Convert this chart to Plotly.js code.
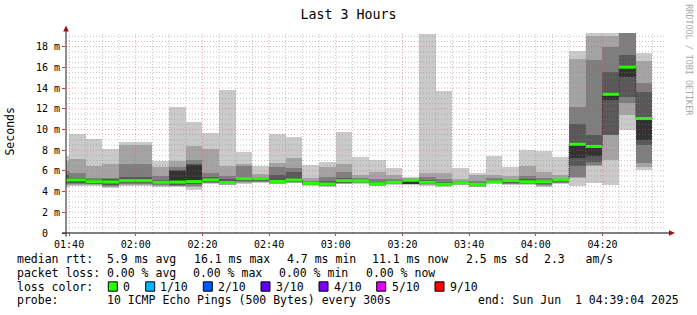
<!DOCTYPE html>
<html><head><meta charset="utf-8">
<script src="https://cdn.plot.ly/plotly-3.0.1.min.js"></script>
<style>html,body{margin:0;padding:0;background:#fff;}#chart{width:697px;height:315px;}</style>
</head><body><div id="chart"></div>
<script>
// ---- data (5-minute bins, start time of each bin) ----
const binStart = ["2025-06-01 01:35:00","2025-06-01 01:40:00","2025-06-01 01:45:00","2025-06-01 01:50:00","2025-06-01 01:55:00",
 "2025-06-01 02:00:00","2025-06-01 02:05:00","2025-06-01 02:10:00","2025-06-01 02:15:00","2025-06-01 02:20:00","2025-06-01 02:25:00",
 "2025-06-01 02:30:00","2025-06-01 02:35:00","2025-06-01 02:40:00","2025-06-01 02:45:00","2025-06-01 02:50:00","2025-06-01 02:55:00",
 "2025-06-01 03:00:00","2025-06-01 03:05:00","2025-06-01 03:10:00","2025-06-01 03:15:00","2025-06-01 03:20:00","2025-06-01 03:25:00",
 "2025-06-01 03:30:00","2025-06-01 03:35:00","2025-06-01 03:40:00","2025-06-01 03:45:00","2025-06-01 03:50:00","2025-06-01 03:55:00",
 "2025-06-01 04:00:00","2025-06-01 04:05:00","2025-06-01 04:10:00","2025-06-01 04:15:00","2025-06-01 04:20:00","2025-06-01 04:25:00",
 "2025-06-01 04:30:00"];
// sorted ping rtt values (ms), ping1 = fastest ... ping10 = slowest
const ping10 = [7.40,9.55,9.07,8.10,8.78,8.78,7.00,12.14,10.70,9.65,13.78,7.82,6.44,9.61,9.23,6.57,6.86,9.74,7.34,7.05,6.29,5.45,19.23,13.68,6.31,5.80,7.47,6.41,8.00,7.94,7.34,17.62,19.80,20.50,22.00,17.37];
const ping9  = [7.00,7.15,6.44,6.66,8.50,8.50,6.40,6.93,8.43,8.14,6.44,6.66,5.70,6.79,7.27,5.30,6.34,6.67,5.58,5.93,5.65,5.30,5.83,5.83,5.20,5.64,5.64,5.54,6.44,5.90,5.58,16.85,19.05,19.00,21.00,16.60];
const ping8  = [6.00,5.80,5.32,5.35,6.66,6.66,5.54,6.40,7.08,5.80,5.48,6.45,5.40,6.40,6.30,5.00,5.45,5.85,5.30,5.20,5.20,5.20,5.40,5.20,5.00,5.00,5.30,5.20,5.55,5.30,5.25,12.15,16.70,17.98,19.50,14.48];
const ping7  = [5.60,5.35,5.15,5.25,5.40,5.40,5.10,6.10,6.70,5.40,5.20,5.38,5.30,5.60,5.90,4.90,5.00,5.30,5.15,4.95,5.00,5.15,5.10,4.95,4.90,4.80,5.05,5.10,5.20,5.05,5.18,10.50,9.47,15.58,17.24,13.60];
const ping6  = [5.20,5.15,5.00,5.00,5.15,5.15,4.95,6.00,6.60,5.20,4.95,5.30,5.28,5.05,5.20,4.85,4.80,5.10,5.08,4.80,4.92,5.12,4.95,4.80,4.88,4.72,4.98,5.08,5.00,4.98,5.15,8.60,8.45,13.49,16.05,11.15];
const ping5  = [4.95,4.95,4.85,4.80,4.95,4.95,4.80,4.80,4.85,5.00,4.80,5.10,5.10,4.90,5.00,4.75,4.65,4.95,4.95,4.70,4.85,4.78,4.80,4.65,4.80,4.60,4.88,4.90,4.85,4.80,5.00,7.21,7.40,12.85,15.05,8.97];
const ping4  = [4.80,4.85,4.75,4.60,4.80,4.80,4.70,4.65,4.70,4.90,4.75,5.00,5.00,4.85,4.95,4.70,4.60,4.85,4.90,4.65,4.80,4.74,4.75,4.60,4.75,4.55,4.85,4.80,4.80,4.70,4.90,6.45,6.90,9.50,13.10,8.50];
const ping3  = [4.70,4.75,4.70,4.50,4.70,4.70,4.60,4.55,4.55,4.85,4.70,4.90,4.95,4.80,4.90,4.65,4.55,4.80,4.85,4.60,4.75,4.72,4.70,4.55,4.70,4.50,4.82,4.75,4.75,4.60,4.85,5.45,6.60,9.45,12.60,6.76];
const ping2  = [4.60,4.65,4.60,4.40,4.60,4.60,4.50,4.50,4.40,4.80,4.65,4.85,4.90,4.75,4.85,4.60,4.50,4.75,4.80,4.55,4.70,4.70,4.65,4.50,4.65,4.48,4.80,4.70,4.70,4.50,4.80,5.35,6.50,7.07,11.40,6.38];
const ping1  = [4.45,4.55,4.50,4.30,4.50,4.50,4.40,4.40,4.20,4.70,4.60,4.75,4.85,4.70,4.80,4.55,4.45,4.70,4.75,4.50,4.65,4.68,4.55,4.45,4.60,4.45,4.78,4.65,4.65,4.42,4.75,4.55,4.85,4.61,9.99,6.07];
const medianRtt = [5.10,5.12,4.95,4.93,5.06,5.06,4.90,4.92,4.97,5.13,4.87,5.25,5.25,4.98,5.12,4.80,4.73,5.06,5.03,4.76,4.90,5.09,4.90,4.71,4.85,4.69,4.93,5.06,4.95,4.94,5.13,8.57,8.36,13.40,16.02,11.06];
const yTickVals = [0,2,4,6,8,10,12,14,16,18];
const yTickText = ["0\u00a0\u00a0","2 m","4 m","6 m","8 m","10 m","12 m","14 m","16 m","18 m"];
const lossLabels = ["0","1/10","2/10","3/10","4/10","5/10","9/10"];
const lossColors = ["#26ff00","#00b8ff","#0059ff","#5e00ff","#7e00ff","#dd00ff","#ff0000"];
const statsRtt  = ["5.9 ms avg","16.1 ms max","4.7 ms min","11.1 ms now","2.5 ms sd","2.3   am/s"];
const statsLoss = ["0.00 % avg","0.00 % max","0.00 % min","0.00 % now"];
const probeText = "10 ICMP Echo Pings (500 Bytes) every 300s";
const endText = "end: Sun Jun  1 04:39:04 2025";

// ---- helpers ----
const MONO = "DejaVu Sans Mono";
const STEP = 300000;
function toMs(s){const m=s.match(/(\d+)-(\d+)-(\d+) (\d+):(\d+):(\d+)/);return Date.UTC(+m[1],+m[2]-1,+m[3],+m[4],+m[5],+m[6]);}
const xStart = binStart.map(toMs);
const L=66, R=666, T=32.6, B=233.3;
const PX = px => (px-L)/(R-L);
const PY = py => (B-py)/(B-T);

// ---- smoke layers ----
const lows  = [ping1,ping2,ping3,ping4,ping5];
const highs = [ping10,ping9,ping8,ping7,ping6];
const smokeCols = ["#cacaca","#a4a4a4","#7e7e7e","#585858","#323232"];
const traces = [];
for(let k=0;k<5;k++){
  traces.push({type:'bar',x:xStart,base:lows[k],y:highs[k].map((h,i)=>h-lows[k][i]),
    offset:0,width:STEP,marker:{color:smokeCols[k],line:{width:0}},hoverinfo:'skip',showlegend:false});
}
// thin dark median step line
traces.push({type:'scatter',mode:'lines',x:xStart.concat([xStart[xStart.length-1]+STEP]),
  y:medianRtt.concat([medianRtt[medianRtt.length-1]]),line:{shape:'hv',color:'#202020',width:1,dash:'1px,1px'},
  hoverinfo:'skip',showlegend:false});
// green median segments
const gx=[],gy=[];
xStart.forEach((t,i)=>{gx.push(t,t+STEP,null);gy.push(medianRtt[i],medianRtt[i],null);});
traces.push({type:'scatter',mode:'lines',x:gx,y:gy,line:{color:lossColors[0],width:3},hoverinfo:'skip',showlegend:false});

// ---- grid (drawn above smoke like rrdtool) ----
const shapes=[];
const GRAY='rgba(140,140,140,0.5)', RED='rgba(225,80,80,0.5)';
for(let v=0.5; v<19.3; v+=0.5){
  const major = Math.abs(v/2-Math.round(v/2))<1e-6;
  shapes.push({type:'line',xref:'paper',yref:'y',x0:0,x1:1,y0:v,y1:v,layer:'above',
    line:{color:major?RED:GRAY,width:1,dash:'1px,2px'}});
}
const t0=toMs("2025-06-01 01:40:00");
for(let t=t0; t<=toMs("2025-06-01 04:35:00"); t+=STEP){
  const major = ((t-t0)/STEP)%4===0;
  shapes.push({type:'line',xref:'x',yref:'paper',x0:t,x1:t,y0:0,y1:1,layer:'above',
    line:{color:major?RED:GRAY,width:1,dash:'1px,2px'}});
}
// axes with arrows
shapes.push({type:'line',xref:'paper',yref:'paper',x0:PX(62),x1:PX(670),y0:0,y1:0,layer:'above',line:{color:'#000',width:1}});
shapes.push({type:'line',xref:'paper',yref:'paper',x0:0,x1:0,y0:PY(237),y1:PY(29),layer:'above',line:{color:'#202020',width:1}});
shapes.push({type:'path',xref:'paper',yref:'paper',layer:'above',fillcolor:'#9c1010',line:{width:0},
  path:`M ${PX(669)} ${PY(230.5)} L ${PX(675)} ${PY(233.3)} L ${PX(669)} ${PY(236.1)} Z`});
shapes.push({type:'path',xref:'paper',yref:'paper',layer:'above',fillcolor:'#9c1010',line:{width:0},
  path:`M ${PX(63.2)} ${PY(31)} L ${PX(66)} ${PY(25)} L ${PX(68.8)} ${PY(31)} Z`});

// ---- legend texts ----
const ann=[];
function txt(text,px,py,size,extra){
  ann.push(Object.assign({text:text.replace(/ /g,'\u00a0'),xref:'paper',yref:'paper',x:PX(px),y:PY(py),
    xanchor:'left',yanchor:'middle',showarrow:false,borderpad:0,borderwidth:0,
    font:{family:MONO,size:size||11.5,color:'#000'}},extra||{}));
}
const rttX=[107.3,193.7,287,372.3,466,544.3];
const lossX=[107.3,193.3,279.3,365.7];
txt("median rtt:",16.7,259);
statsRtt.forEach((s,i)=>txt(s,rttX[i],259));
txt("packet loss:",16.7,273.3);
statsLoss.forEach((s,i)=>txt(s,lossX[i],273.3));
txt("loss color:",16.7,287);
const boxX=[108.3,145.7,203.3,261,319,376.7,435];
const labX=[123.3,160,218.3,276,334,392,450];
lossLabels.forEach((s,i)=>{
  txt(s,labX[i],287);
  shapes.push({type:'rect',xref:'paper',yref:'paper',x0:PX(boxX[i]),x1:PX(boxX[i]+9),y0:PY(291.7),y1:PY(282.3),
    fillcolor:lossColors[i],line:{color:'#000',width:1},layer:'above'});
});
txt("probe:",16.7,301);
txt(probeText,107.3,301);
txt(endText,478.3,301);
// y title & watermark
ann.push({text:'Seconds',xref:'paper',yref:'paper',x:PX(10.5),y:PY(132),xanchor:'center',yanchor:'middle',
  textangle:-90,showarrow:false,font:{family:MONO,size:11.5,color:'#000'}});
ann.push({text:'RRDTOOL / TOBI OETIKER'.replace(/ /g,'\u00a0'),xref:'paper',yref:'paper',x:PX(689),y:PY(60),xanchor:'center',yanchor:'middle',
  textangle:90,showarrow:false,font:{family:MONO,size:8.4,color:'#a8a8a8'}});

const layout={
  width:697,height:315,
  margin:{l:L,r:697-R,t:T,b:315-B,pad:0},
  paper_bgcolor:'#fff',plot_bgcolor:'#fff',
  title:{text:'Last 3 Hours',font:{family:MONO,size:13.3,color:'#000'},x:0.5,xanchor:'center',xref:'container',
    y:1-14/315,yanchor:'middle',yref:'container'},
  barmode:'overlay',bargap:0,
  showlegend:false,
  xaxis:{type:'date',range:[toMs("2025-06-01 01:39:04"),toMs("2025-06-01 04:39:04")],
    tick0:"2025-06-01 01:40:00",dtick:1200000,tickformat:'%H:%M',showgrid:false,zeroline:false,showline:false,
    ticks:'outside',ticklen:2,tickcolor:'#c04040',tickfont:{family:MONO,size:10,color:'#000'}},
  yaxis:{range:[0,19.32],tickvals:yTickVals,ticktext:yTickText,showgrid:false,zeroline:false,showline:false,
    ticks:'outside',ticklen:3,tickcolor:'#c04040',tickfont:{family:MONO,size:10,color:'#000'}},
  shapes:shapes,annotations:ann
};
Plotly.newPlot('chart',traces,layout,{staticPlot:true,displayModeBar:false});
</script></body></html>
